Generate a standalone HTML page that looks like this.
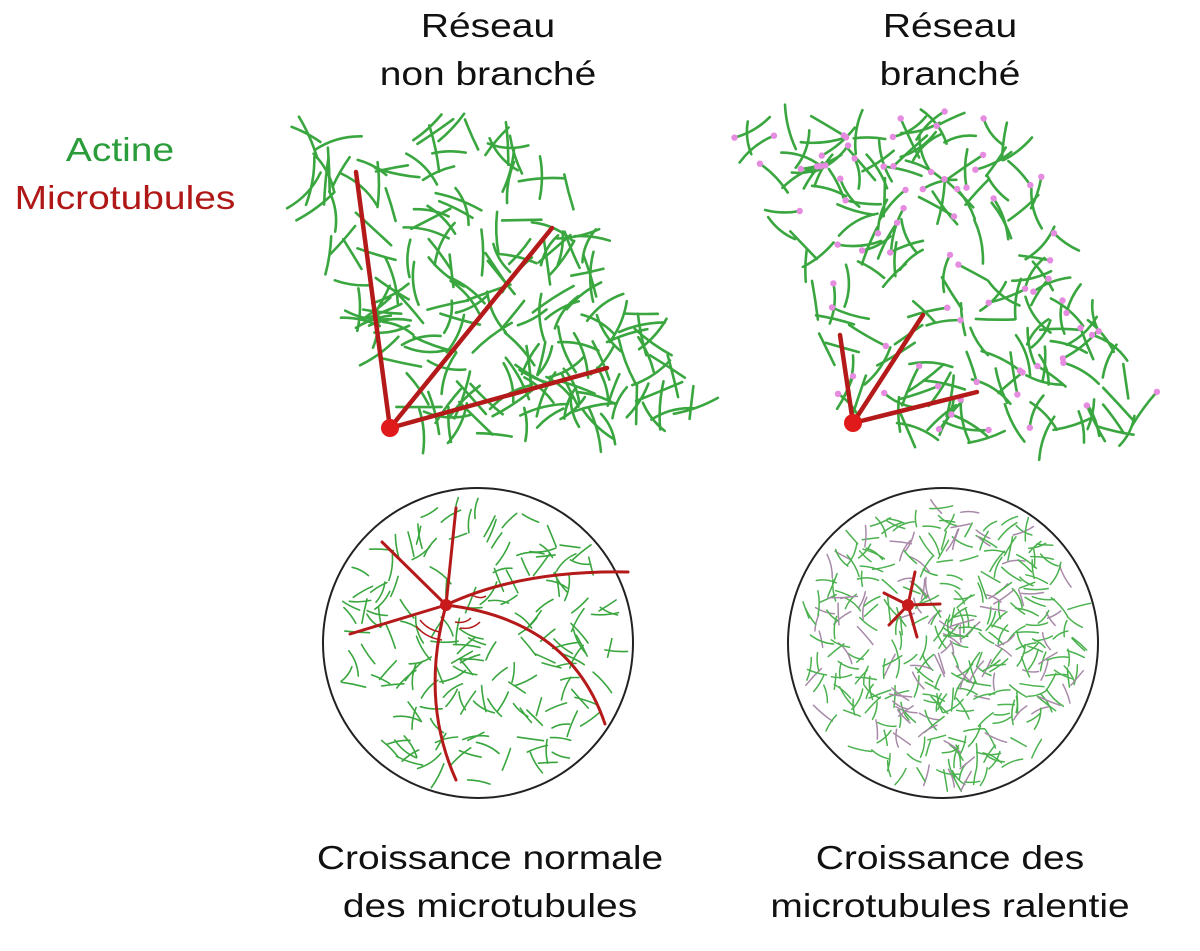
<!DOCTYPE html>
<html><head><meta charset="utf-8"><style>
html,body{margin:0;padding:0;background:#fff;width:1200px;height:951px;overflow:hidden}
.t{position:absolute;font-family:"Liberation Sans",sans-serif;font-size:33px;color:#111;text-align:center;line-height:48px;transform:scaleX(1.18)}
</style></head><body>
<div class="t" style="left:363px;top:2px;width:250px">Réseau<br>non branché</div>
<div class="t" style="left:825px;top:2px;width:250px">Réseau<br>branché</div>
<div class="t" style="left:0;top:126px;width:240px;color:#2a9d3a">Actine</div>
<div class="t" style="left:0;top:174px;width:250px;color:#b01818">Microtubules</div>
<div class="t" style="left:290px;top:834px;width:400px">Croissance normale<br>des microtubules</div>
<div class="t" style="left:760px;top:834px;width:380px">Croissance des<br>microtubules ralentie</div>
<svg id="s" width="1200" height="951" style="position:absolute;left:0;top:0"></svg>
<script>
var s=document.getElementById('s'),h='';
var seed=7;function r(){seed=(seed*16807)%2147483647;return (seed-1)/2147483646;}
function inPoly(x,y,p){var c=false;for(var i=0,j=p.length-1;i<p.length;j=i++){var xi=p[i][0],yi=p[i][1],xj=p[j][0],yj=p[j][1];if(((yi>y)!=(yj>y))&&(x<(xj-xi)*(y-yi)/(yj-yi)+xi))c=!c;}return c;}
function seg(x,y,L,col,w){var a=r()*Math.PI*2,dx=Math.cos(a)*L/2,dy=Math.sin(a)*L/2,b=(r()-.5)*L*.35;
var mx=x-dy/L*2*b,my=y+dx/L*2*b;h+='<path d="M'+(x-dx).toFixed(1)+' '+(y-dy).toFixed(1)+'Q'+mx.toFixed(1)+' '+my.toFixed(1)+' '+(x+dx).toFixed(1)+' '+(y+dy).toFixed(1)+'" stroke="'+col+'" stroke-width="'+w+'" fill="none" stroke-linecap="round"/>';return [x+dx,y+dy];}
var P1=[[280,135],[520,110],[700,405],[640,435],[395,435]];
for(var n=0;n<190;){var x=270+r()*440,y=100+r()*345;if(inPoly(x,y,P1)){seg(x,y,32+r()*18,'#3aa63f',2.6);n++;}}
var P2=[[745,125],[1000,110],[1160,420],[1110,440],[855,440]];
var pts=[];
for(var n=0;n<180;){var x=735+r()*435,y=100+r()*345;if(inPoly(x,y,P2)){var e=seg(x,y,30+r()*16,'#3aa63f',2.6);if(r()<.4)pts.push(e);n++;}}
pts.forEach(function(p){h+='<circle cx="'+p[0].toFixed(1)+'" cy="'+p[1].toFixed(1)+'" r="3.2" fill="#e58be0"/>';});
for(var n=0;n<170;){var x=478+(r()-.5)*300,y=643+(r()-.5)*300;if((x-478)*(x-478)+(y-643)*(y-643)<140*140){seg(x,y,18+r()*10,'#3aa63f',1.6);n++;}}
for(var n=0;n<380;){var x=943+(r()-.5)*300,y=643+(r()-.5)*300;if((x-943)*(x-943)+(y-643)*(y-643)<142*142){seg(x,y,15+r()*10,r()<.25?'#a88aa8':'#4bb24f',1.5);n++;}}
h+='<circle cx="478" cy="643" r="155" fill="none" stroke="#222" stroke-width="2"/><circle cx="943" cy="643" r="155" fill="none" stroke="#222" stroke-width="2"/>';
var R='stroke="#b51a1a" fill="none" stroke-linecap="round"';
h+='<path d="M390 428L356 172M390 428L552 228M390 428L607 368" '+R+' stroke-width="4.5"/><circle cx="390" cy="428" r="9" fill="#e01a1a"/>';
h+='<path d="M853 423L840 335M853 423L923 315M853 423L977 392" '+R+' stroke-width="4.5"/><circle cx="853" cy="423" r="9" fill="#e01a1a"/>';
h+='<path d="M446 605L456 508M446 605L382 542M446 605L350 634M446 605Q520 570 628 572M446 605Q420 700 456 780M446 605Q570 620 605 724" '+R+' stroke-width="3"/><circle cx="446" cy="605" r="6" fill="#c81a1a"/>';
h+='<path d="M420 620q8 10 20 12M416 626q10 12 26 14M455 622q10 2 16 -4M460 628q12 2 20 -6M470 594q10 6 16 2" stroke="#b51a1a" fill="none" stroke-width="1.5"/>';
h+='<path d="M908 605L915 572M908 605L940 604M908 605L917 637M908 605L889 625M908 605L884 593" '+R+' stroke-width="3"/><circle cx="908" cy="605" r="6" fill="#c81a1a"/>';
s.innerHTML=h;
</script>
</body></html>
